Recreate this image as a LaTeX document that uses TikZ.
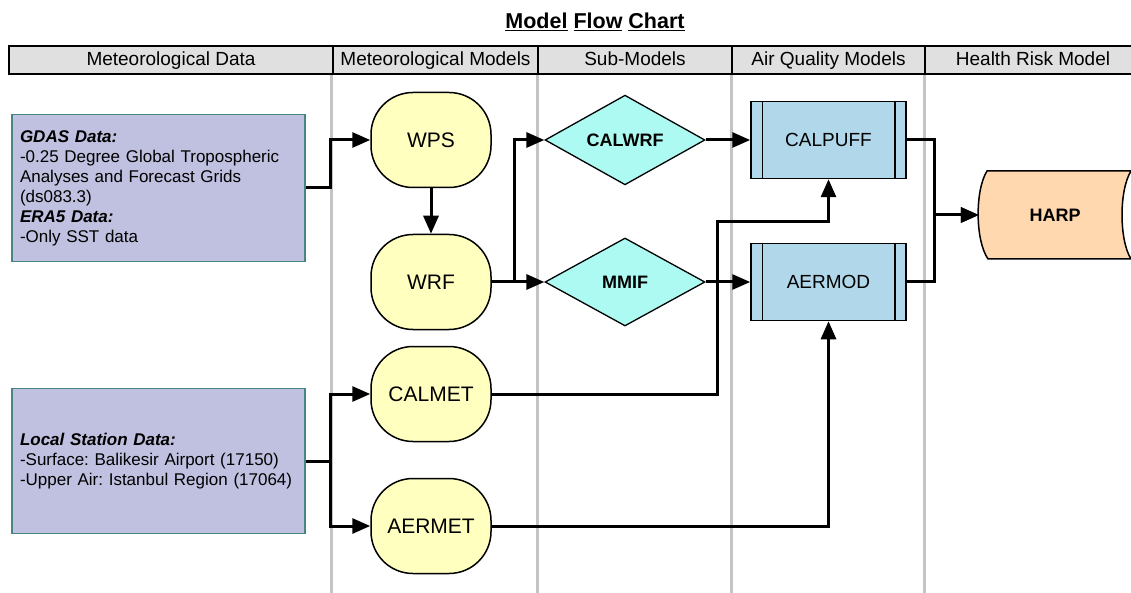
\documentclass[tikz,border=0pt]{standalone}
\usepackage{fontspec}
\setmainfont{Liberation Sans}
\usetikzlibrary{arrows.meta,shapes.geometric}

\definecolor{headgray}{HTML}{E0E0E0}
\definecolor{lanegray}{HTML}{C4C4C4}
\definecolor{datafill}{HTML}{C0C0E0}
\definecolor{dataedge}{HTML}{4A8585}
\definecolor{termyellow}{HTML}{FFFFC0}
\definecolor{subcyan}{HTML}{ADFAF2}
\definecolor{procblue}{HTML}{B0D8EA}
\definecolor{riskpeach}{HTML}{FFD8B0}

\frenchspacing

\begin{document}
\begin{tikzpicture}[
    x=1pt, y=-1pt,
    headcell/.style={anchor=base, inner sep=0pt, font=\fontsize{19}{22}\selectfont},
    swimline/.style={draw=lanegray, line width=3pt},
    databox/.style={draw=dataedge, line width=1.5pt, fill=datafill, minimum width=293pt,
        text width=277pt, align=left, inner sep=8pt, font=\fontsize{17}{20}\selectfont},
    termbox/.style={draw, line width=1.5pt, fill=termyellow, rounded corners=42pt,
        minimum width=120pt, minimum height=95pt, font=\fontsize{21}{25}\selectfont},
    decision/.style={diamond, draw, line width=1.3pt, fill=subcyan, minimum width=160pt,
        minimum height=88pt, inner sep=0pt, font=\bfseries\fontsize{18}{22}\selectfont},
    process/.style={draw, line width=1.5pt, fill=procblue, minimum width=155pt,
        minimum height=77pt, font=\fontsize{19}{22}\selectfont},
    flow/.style={->, line width=3pt},
    >={Triangle[length=18pt,width=15pt]}
]
\useasboundingbox (0,0) rectangle (1131,593);

% title and lane headers
\node[font=\bfseries\fontsize{21.5}{26}\selectfont] (title) at (595,22)
    {\underline{Model} \underline{Flow} \underline{Chart}};

\draw[swimline] (331,74) -- (331,593);
\draw[swimline] (537,74) -- (537,593);
\draw[swimline] (731,74) -- (731,593);
\draw[swimline] (924,74) -- (924,593);

\draw[line width=2pt, fill=headgray] (9,46) rectangle (1140,74);
\foreach \x in {333,538,732,925}
    \draw[line width=2pt] (\x,46) -- (\x,74);
\node[headcell] (hdata) at (171,66) {Meteorological Data};
\node[headcell] (hmet) at (435.5,66) {Meteorological Models};
\node[headcell] (hsub) at (635,66) {Sub-Models};
\node[headcell] (haq) at (828.5,66) {Air Quality Models};
\node[headcell] (hrisk) at (1033,66) {Health Risk Model};

% data sources
\node[databox, minimum height=147pt] (gdas) at (158.5,188)
    {{\bfseries\itshape GDAS Data:}\\
     -0.25 Degree Global Tropospheric\\
     Analyses and Forecast Grids\\
     (ds083.3)\\
     {\bfseries\itshape ERA5 Data:}\\
     -Only SST data};
\node[databox, minimum height=145pt] (local) at (158.5,461)
    {{\bfseries\itshape Local Station Data:}\\
     -Surface: Balikesir Airport (17150)\\
     -Upper Air: Istanbul Region (17064)};

% models
\node[termbox] (wps) at (431,140) {WPS};
\node[termbox] (wrf) at (431,282) {WRF};
\node[termbox] (calmet) at (431,394) {CALMET};
\node[termbox] (aermet) at (431,526) {AERMET};

\node[decision] (calwrf) at (625,140) {CALWRF};
\node[decision] (mmif) at (625,282) {MMIF};

\node[process] (calpuff) at (828.5,140) {CALPUFF};
\node[process] (aermod) at (828.5,282) {AERMOD};
\foreach \p in {calpuff, aermod} {
    \draw[line width=1.5pt] ([xshift=12pt]\p.north west) -- ([xshift=12pt]\p.south west);
    \draw[line width=1.5pt] ([xshift=-12pt]\p.north east) -- ([xshift=-12pt]\p.south east);
}

\draw[line width=1.5pt, fill=riskpeach] (987,171) -- (1131,171)
    .. controls (1119,190) and (1119,240) .. (1131,259) -- (988,259)
    .. controls (975,240) and (975,190) .. (987,171) -- cycle;
\node[minimum width=152pt, minimum height=88pt, font=\bfseries\fontsize{18}{22}\selectfont]
    (harp) at (1055,215) {HARP};

% connectors
\draw[flow] (gdas.east) -- ++(25,0) |- (wps.west);
\draw[flow] (local.east) -- ++(25,0) |- (calmet.west);
\draw[flow] (local.east) -- ++(25,0) |- (aermet.west);
\draw[flow] (wps) -- (wrf);
\draw[flow] (wrf.east) -- (mmif.west);
\draw[flow] (wrf.east) -- ++(23,0) |- (calwrf.west);
\draw[flow] (calwrf.east) -- (calpuff.west);
\draw[flow] (mmif.east) -- (aermod.west);
\coordinate (calmetbend) at (717,222);
\draw[flow] (calmet.east) -| (calmetbend) -| (calpuff.south);
\draw[flow] (aermet.east) -| (aermod.south);
\draw[flow] (calpuff.east) -- ++(28,0) |- (harp.west);
\draw[flow] (aermod.east) -- ++(28,0) |- (harp.west);
\end{tikzpicture}
\end{document}
